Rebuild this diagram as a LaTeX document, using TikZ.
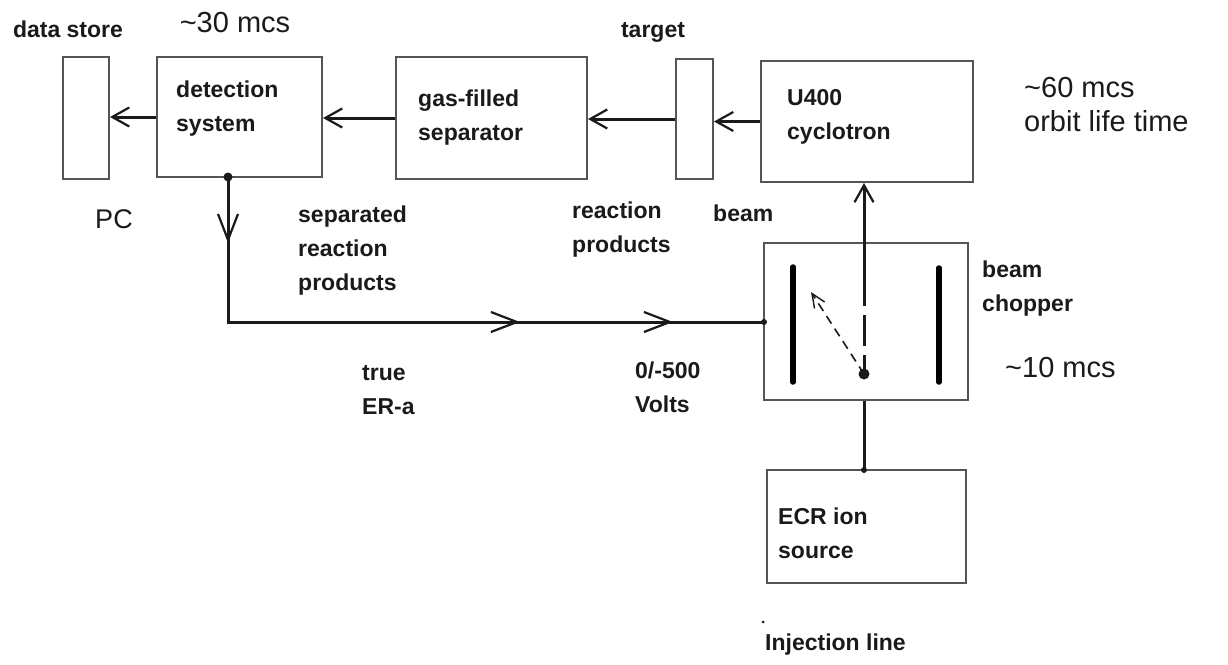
\documentclass[tikz,border=0pt]{standalone}
\usepackage{fontspec}
\setmainfont{Liberation Sans}
\usetikzlibrary{arrows.meta,decorations.markings}
\definecolor{boxgray}{HTML}{555555}
\definecolor{ink}{HTML}{1A1A1A}
\tikzset{
  endtip/.tip={Straight Barb[length=17pt,width=19pt,line width=2.2pt]},
  midtip/.tip={Straight Barb[length=26pt,width=20pt,line width=2.2pt]},
  smalltip/.tip={Straight Barb[length=14pt,width=12pt,line width=1.4pt]},
  blk/.style={draw=boxgray,line width=2pt,inner sep=0pt,rectangle},
  lbl/.style={font=\bfseries\fontsize{23}{34}\selectfont,text=ink,align=left,inner sep=0pt,anchor=west},
  biglbl/.style={font=\fontsize{29}{34}\selectfont,text=ink,align=left,inner sep=0pt},
  conn/.style={draw=ink,line width=3pt},
  dotnode/.style={circle,fill=ink,inner sep=0pt,minimum size=#1},
  plate/.style={draw=black,line width=5.5pt,line cap=round}
}
\begin{document}
\begin{tikzpicture}[x=1pt,y=-1pt]
\useasboundingbox (0,0) rectangle (1228,664);
\fill[white] (0,0) rectangle (1228,664);

% boxes
\node[blk,minimum width=46pt,minimum height=122pt] (ds) at (86,118) {};
\node[blk,minimum width=165pt,minimum height=120pt] (det) at (239.5,117) {};
\node[blk,minimum width=191pt,minimum height=122pt] (gas) at (491.5,118) {};
\node[blk,minimum width=37pt,minimum height=120pt] (tg) at (694.5,119) {};
\node[blk,minimum width=212pt,minimum height=121pt] (u400) at (867,121.5) {};
\node[blk,minimum width=204pt,minimum height=157pt] (chop) at (866,321.5) {};
\node[blk,minimum width=199pt,minimum height=113pt] (ecr) at (866.5,526.5) {};

% box texts
\node[lbl] (dettxt) at (176,109) {detection\\system};
\node[lbl] (gastxt) at (418,117.5) {gas-filled\\separator};
\node[lbl] (utxt) at (787,117) {U400\\cyclotron};
\node[lbl] (ecrtxt) at (778,533.5) {ECR ion\\source};

% labels
\node[lbl,anchor=center] (dslbl) at (68,29) {data store};
\node[biglbl] (t30) at (235,23) {\textasciitilde30 mcs};
\node[lbl,anchor=center] (tglbl) at (653,32) {target};
\node[biglbl,anchor=west] (t60) at (1024,105) {\textasciitilde60 mcs\\orbit life time};
\node[font=\fontsize{27}{30}\selectfont,text=ink,inner sep=0pt] (pc) at (114,219) {PC};
\node[lbl] (seplbl) at (298,251) {separated\\reaction\\products};
\node[lbl] (rplbl) at (572,230) {reaction\\products};
\node[lbl] (beamlbl) at (713,213) {beam};
\node[lbl] (choplbl) at (982,288.5) {beam\\chopper};
\node[biglbl,anchor=west] (t10) at (1005,368) {\textasciitilde10 mcs};
\node[lbl] (erlbl) at (362,390) {true\\ER-a};
\node[lbl] (vlbl) at (635,387.5) {0/-500\\Volts};
\node[lbl] (injlbl) at (765,645) {Injection line};
\node[dotnode=3pt] (speck) at (763,622) {};

% beam line arrows
\draw[conn,-endtip] (u400.west) -- (tg.east |- u400.west);
\draw[conn,-endtip] (tg.west) -- (gas.east |- tg.west);
\draw[conn,-endtip] (gas.west) -- (det.east |- gas.west);
\draw[conn,-endtip] (det.west) -- (ds.east |- det.west);

% dots
\node[dotnode=9pt] (dd) at (228,177) {};
\node[dotnode=6pt] (cl) at (764,322) {};
\node[dotnode=11pt] (cp) at (864,374) {};
\node[dotnode=6pt] (ed) at (864,470) {};
\coordinate (bt) at (864,265);
\coordinate (bd) at (864,275);
\coordinate (dfl) at (811,292);

% signal line from detection to chopper
\draw[conn,postaction={decorate},decoration={markings,
    mark=at position 66pt with {\arrow{midtip}},
    mark=at position 437pt with {\arrow{midtip}},
    mark=at position 590pt with {\arrow{midtip}}}]
  (dd.center) -- (dd.center |- cl.center) -- (cl.center);

% chopper plates
\draw[plate] (793,267) -- (793,382);
\draw[plate] (939,268) -- (939,382);

% beam through chopper
\draw[conn,dash pattern=on 31pt off 9pt] (bd) -- (cp.center);
\draw[conn,-endtip] (bt) -- (bt |- u400.south);
\draw[conn] (bt) -- (bd);
\draw[draw=ink,line width=1.6pt,dash pattern=on 9pt off 6pt,-smalltip] (cp.center) -- (dfl);

% injection line
\draw[conn] (ed.center) -- (ed.center |- chop.south);
\end{tikzpicture}
\end{document}
